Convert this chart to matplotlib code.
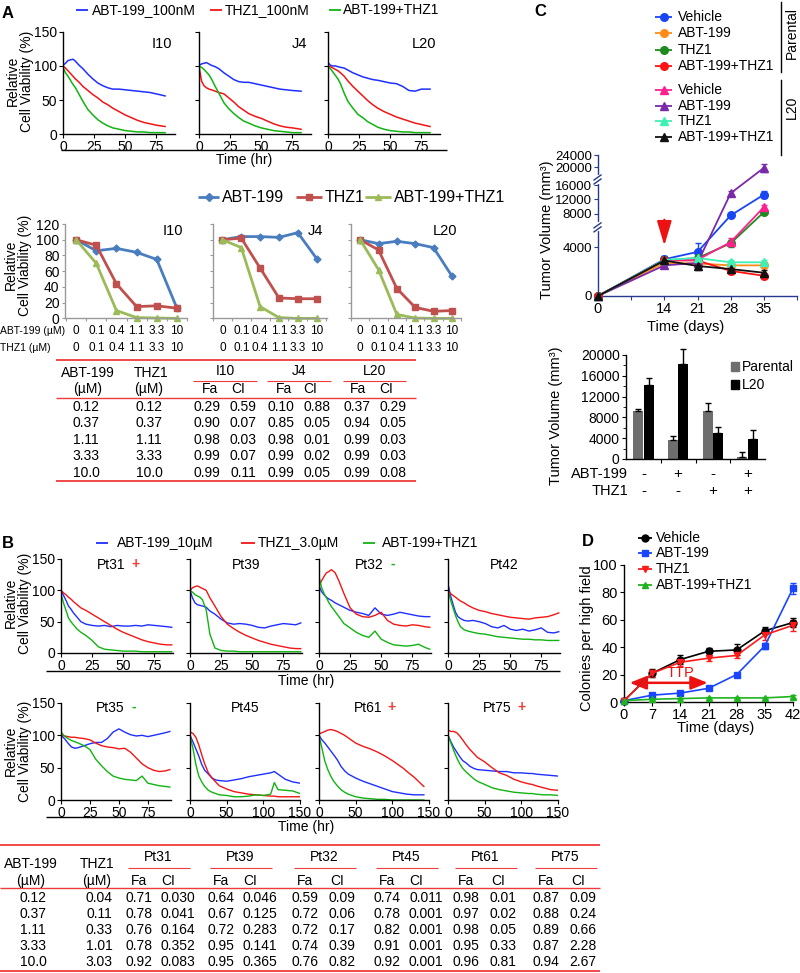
import matplotlib.pyplot as plt
import numpy as np

plt.rcParams['font.family'] = ['Liberation Sans', 'DejaVu Sans']
plt.rcParams['font.size'] = 10
plt.rcParams['axes.linewidth'] = 1.0
plt.rcParams['xtick.major.size'] = 3
plt.rcParams['ytick.major.size'] = 3
plt.rcParams['xtick.major.pad'] = 1.5
plt.rcParams['ytick.major.pad'] = 1.5

# ---------------- data ----------------
# A (top): live-cell viability, 100 nM
a_t = [0, 2, 4, 6, 8, 10, 13, 16, 20, 24, 28, 32, 36, 40, 45, 50, 55, 60, 65, 70, 75, 82]
a_i10_abt = [101, 104, 108, 109, 110, 107, 101, 96, 88, 81, 75, 71, 68, 66, 66, 65, 64, 63, 62, 61, 59, 56]
a_i10_thz = [100, 97, 93, 89, 85, 81, 76, 70, 64, 58, 53, 47, 43, 38, 33, 28, 24, 20, 17, 15, 13, 11]
a_i10_combo = [98, 90, 85, 79, 73, 68, 58, 48, 36, 28, 21, 16, 12, 9, 7, 5, 4, 3, 3, 2, 2, 2]
a_j4_abt = [101, 103, 104, 105, 103, 101, 99, 96, 90, 85, 80, 77, 76, 76, 74, 72, 70, 68, 66, 65, 64, 63]
a_j4_thz = [100, 78, 71, 68, 66, 65, 63, 61, 59, 53, 47, 40, 35, 30, 26, 23, 19, 15, 12, 10, 9, 7]
a_j4_combo = [100, 98, 95, 91, 87, 81, 70, 60, 46, 37, 30, 24, 19, 16, 12, 9, 7, 5, 4, 3, 2, 2]
a_l20_abt = [105, 101, 100, 100, 99, 98, 97, 94, 90, 87, 84, 82, 80, 79, 77, 75, 74, 70, 64, 63, 66, 66]
a_l20_thz = [100, 99, 97, 95, 93, 90, 85, 78, 70, 63, 56, 49, 43, 38, 33, 29, 25, 22, 19, 16, 14, 11]
a_l20_combo = [100, 96, 91, 86, 81, 74, 60, 48, 38, 29, 24, 18, 14, 10, 7, 5, 4, 3, 3, 2, 2, 2]
a_lines = ['I10', 'J4', 'L20']

# A (middle): dose response
a_dose_abt = ['0', '0.1', '0.4', '1.1', '3.3', '10']
a_dose_thz = ['0', '0.1', '0.4', '1.1', '3.3', '10']
d_i10_abt = [100, 86, 89, 84, 75, 13]
d_i10_thz = [100, 93, 44, 15, 16, 13]
d_i10_combo = [100, 70, 10, 1, 0.5, 0]
d_j4_abt = [100, 104, 104, 103, 109, 76]
d_j4_thz = [100, 102, 64, 26, 25, 25]
d_j4_combo = [100, 90, 15, 1, 0, 0]
d_l20_abt = [100, 95, 98, 95, 90, 54]
d_l20_thz = [100, 87, 38, 14, 9, 10]
d_l20_combo = [100, 62, 5, 0.5, 0, 0]

# A table
ta_abt = ['0.12', '0.37', '1.11', '3.33', '10.0']
ta_thz = ['0.12', '0.37', '1.11', '3.33', '10.0']
ta_i10_fa = ['0.29', '0.90', '0.98', '0.99', '0.99']
ta_i10_ci = ['0.59', '0.07', '0.03', '0.07', '0.11']
ta_j4_fa = ['0.10', '0.85', '0.98', '0.99', '0.99']
ta_j4_ci = ['0.88', '0.05', '0.01', '0.02', '0.05']
ta_l20_fa = ['0.37', '0.94', '0.99', '0.99', '0.99']
ta_l20_ci = ['0.29', '0.05', '0.03', '0.03', '0.08']

# B: patient samples
b1_t = [0, 2, 4, 6, 8, 10, 13, 16, 20, 25, 30, 35, 40, 45, 50, 55, 60, 65, 70, 75, 80, 85, 89]
pt31_abt = [100, 92, 84, 75, 70, 64, 57, 50, 46, 44, 43, 44, 42, 44, 43, 43, 44, 43, 45, 44, 43, 42, 41]
pt31_thz = [100, 96, 93, 89, 86, 82, 77, 72, 68, 62, 56, 50, 44, 38, 33, 29, 25, 21, 18, 16, 14, 13, 13]
pt31_combo = [95, 80, 68, 56, 50, 45, 38, 33, 28, 20, 10, 6, 5, 4, 3, 3, 3, 2, 2, 2, 2, 2, 2]
pt39_abt = [100, 88, 80, 77, 76, 75, 73, 67, 62, 54, 48, 46, 47, 46, 44, 41, 40, 43, 45, 47, 46, 45, 48]
pt39_thz = [100, 104, 106, 107, 105, 103, 100, 88, 75, 58, 46, 39, 33, 28, 24, 20, 17, 14, 12, 10, 8, 7, 7]
pt39_combo = [100, 97, 93, 91, 89, 85, 69, 30, 8, 4, 3, 3, 2, 2, 2, 2, 2, 2, 2, 2, 2, 2, 2]
pt32_abt = [107, 98, 93, 89, 86, 84, 80, 77, 73, 68, 65, 63, 60, 72, 62, 60, 62, 65, 63, 61, 59, 58, 58]
pt32_thz = [107, 115, 122, 128, 130, 133, 128, 115, 95, 72, 62, 58, 57, 60, 65, 52, 46, 44, 43, 45, 44, 42, 41]
pt32_combo = [122, 105, 95, 88, 80, 74, 66, 58, 47, 40, 33, 28, 25, 35, 22, 17, 13, 12, 11, 12, 14, 9, 6]
pt42_abt = [110, 92, 78, 65, 58, 55, 52, 51, 52, 50, 47, 42, 40, 44, 38, 36, 38, 35, 37, 40, 33, 32, 34]
pt42_thz = [100, 95, 92, 89, 86, 83, 80, 76, 72, 68, 66, 63, 61, 59, 57, 56, 55, 54, 56, 57, 58, 61, 64]
pt42_combo = [100, 85, 72, 60, 50, 42, 37, 35, 33, 31, 30, 28, 26, 25, 24, 23, 22, 22, 21, 21, 20, 20, 20]

b2_t35 = [0, 3, 6, 9, 12, 15, 20, 25, 30, 35, 40, 45, 50, 55, 60, 65, 70, 75, 80, 85, 90, 94]
pt35_abt = [100, 95, 88, 82, 80, 81, 84, 87, 89, 89, 95, 105, 110, 105, 101, 99, 100, 98, 100, 102, 104, 106]
pt35_thz = [100, 99, 98, 97, 97, 96, 95, 93, 88, 84, 82, 81, 79, 80, 74, 65, 56, 50, 46, 44, 45, 47]
pt35_combo = [105, 99, 95, 92, 90, 88, 84, 78, 63, 53, 44, 37, 34, 32, 31, 30, 37, 26, 24, 22, 21, 20]
b2_t = [0, 4, 8, 12, 16, 20, 25, 30, 35, 40, 50, 60, 70, 80, 90, 100, 110, 115, 120, 130, 140, 150]
pt45_abt = [100, 90, 79, 68, 55, 46, 40, 34, 31, 30, 29, 31, 33, 36, 38, 40, 42, 44, 40, 32, 28, 26]
pt45_thz = [105, 103, 97, 85, 70, 56, 42, 34, 28, 22, 17, 13, 11, 9, 8, 7, 6, 6, 5, 5, 5, 5]
pt45_combo = [100, 80, 55, 37, 28, 21, 15, 12, 10, 8, 7, 5, 5, 6, 8, 7, 9, 27, 16, 15, 14, 10]
b2_t61 = [0, 4, 8, 12, 16, 20, 25, 30, 35, 40, 50, 60, 70, 80, 90, 100, 110, 115, 120, 130, 140, 143]
pt61_abt = [100, 93, 88, 82, 76, 70, 62, 52, 45, 40, 34, 29, 25, 21, 17, 13, 11, 10, 9, 8, 8, 8]
pt61_thz = [102, 104, 106, 108, 109, 108, 106, 103, 100, 96, 88, 83, 79, 74, 68, 61, 53, 49, 44, 35, 24, 21]
pt61_combo = [100, 80, 60, 47, 37, 29, 22, 16, 12, 9, 5, 3, 2, 1, 1, 0, 0, 0, 0, 0, 0, 0]
pt75_abt = [100, 90, 81, 74, 67, 61, 57, 52, 49, 47, 46, 45, 44, 44, 42, 42, 41, 41, 40, 39, 38, 37]
pt75_thz = [108, 106, 106, 104, 99, 93, 85, 78, 72, 66, 59, 50, 42, 38, 32, 28, 25, 24, 22, 19, 16, 15]
pt75_combo = [100, 88, 76, 65, 56, 49, 43, 38, 33, 29, 24, 19, 16, 14, 12, 11, 10, 10, 9, 8, 8, 7]

# B table
tb_abt = ['0.12', '0.37', '1.11', '3.33', '10.0']
tb_thz = ['0.04', '0.11', '0.33', '1.01', '3.03']
tb_names = ['Pt31', 'Pt39', 'Pt32', 'Pt45', 'Pt61', 'Pt75']
tb_fa = [['0.71', '0.78', '0.76', '0.78', '0.92'],
         ['0.64', '0.67', '0.72', '0.95', '0.95'],
         ['0.59', '0.72', '0.72', '0.74', '0.76'],
         ['0.74', '0.78', '0.82', '0.91', '0.92'],
         ['0.98', '0.97', '0.98', '0.95', '0.96'],
         ['0.87', '0.88', '0.89', '0.87', '0.94']]
tb_ci = [['0.030', '0.041', '0.164', '0.352', '0.083'],
         ['0.046', '0.125', '0.283', '0.141', '0.365'],
         ['0.09', '0.06', '0.17', '0.39', '0.82'],
         ['0.011', '0.001', '0.001', '0.001', '0.001'],
         ['0.01', '0.02', '0.05', '0.33', '0.81'],
         ['0.09', '0.24', '0.66', '2.28', '2.67']]

# C: xenograft tumour volume
c_days = [0, 14, 21, 28, 35]
c_par_veh = [0, 3000, 3600, 7500, 13300]
c_par_veh_err = [0, 300, 700, 500, 900]
c_par_abt = [0, 2700, 2650, 2500, 2500]
c_par_abt_err = [0, 250, 300, 250, 250]
c_par_thz = [0, 2900, 3100, 4300, 8400]
c_par_thz_err = [0, 200, 200, 300, 500]
c_par_combo = [0, 2900, 2900, 2050, 1650]
c_par_combo_err = [0, 200, 250, 250, 200]
c_l20_veh = [0, 2950, 2950, 4400, 9800]
c_l20_veh_err = [0, 200, 250, 300, 600]
c_l20_abt = [0, 2500, 2700, 13700, 19700]
c_l20_abt_err = [0, 250, 300, 700, 1200]
c_l20_thz = [0, 2950, 3100, 2750, 2750]
c_l20_thz_err = [0, 200, 200, 200, 200]
c_l20_combo = [0, 2900, 2450, 2200, 1900]
c_l20_combo_err = [0, 200, 350, 200, 200]

cb_par = [9300, 3600, 9200, 400]
cb_par_err = [400, 900, 1600, 1000]
cb_l20 = [14200, 18300, 5000, 3800]
cb_l20_err = [1300, 2900, 1200, 1700]
cb_abt_sign = ['-', '+', '-', '+']
cb_thz_sign = ['-', '-', '+', '+']

# D: colonies
d_days = [0, 7, 14, 21, 28, 35, 42]
d_veh = [1, 21, 31, 37, 38, 52, 58]
d_veh_err = [0.5, 3, 3.5, 2.5, 4, 2.5, 3]
d_abt = [1, 5, 6.5, 10, 20, 41, 83]
d_abt_err = [0.5, 1, 1, 1.2, 1.2, 2, 4]
d_thz = [1, 21, 29, 32, 34, 49, 56]
d_thz_err = [0.5, 2.5, 2.5, 2, 2, 4, 4]
d_combo = [1, 2, 2.5, 3, 3, 3, 4]
d_combo_err = [0.3, 0.5, 0.5, 0.5, 0.5, 0.5, 0.8]

# colours
LB, LR, LG = '#1f2fff', '#f21515', '#12b312'
DB, DR, DG = '#4a7dc0', '#c0504d', '#9bbb59'
RED = '#ef3b3b'
NAVY = '#283a8c'

W, H = 800, 973
fig = plt.figure(figsize=(W / 100, H / 100), dpi=100)


def box(x0, y0, x1, y1):
    return fig.add_axes([x0 / W, 1 - y1 / H, (x1 - x0) / W, (y1 - y0) / H])


ov = box(0, 0, W, H)
ov.set_xlim(0, W)
ov.set_ylim(H, 0)
ov.axis('off')
ov.patch.set_visible(False)
ov.set_zorder(5)


def txt(x, y, s, **kw):
    kw.setdefault('ha', 'center')
    kw.setdefault('va', 'center')
    ov.text(x, y, s, **kw)


def hline(x0, x1, y, color='black', lw=1.0):
    ov.plot([x0, x1], [y, y], color=color, lw=lw, solid_capstyle='butt')


def xpx(ax, x):
    return ax.transData.transform((x, ax.get_ylim()[0]))[0]


def clean(ax):
    ax.spines['top'].set_visible(False)
    ax.spines['right'].set_visible(False)
    ax.tick_params(direction='out')


# ---------------- panel A top ----------------
txt(8, 13, 'A', fontsize=12, fontweight='bold')
hline(76, 88, 10, LB, 1.3)
txt(92, 10, 'ABT-199_100nM', ha='left')
hline(210, 222, 10, LR, 1.3)
txt(225, 10, 'THZ1_100nM', ha='left')
hline(329, 341, 10, LG, 1.3)
txt(343, 10, 'ABT-199+THZ1', ha='left')

a_sets = [(a_i10_abt, a_i10_thz, a_i10_combo), (a_j4_abt, a_j4_thz, a_j4_combo),
          (a_l20_abt, a_l20_thz, a_l20_combo)]
for k, (left, name, ys) in enumerate(zip([63, 199, 328], a_lines, a_sets)):
    ax = box(left, 32, left + 112, 134)
    for y, c in zip(ys, [LB, LR, LG]):
        ax.plot(a_t, y, color=c, lw=1.1)
    ax.set_xlim(0, 90)
    ax.set_ylim(0, 150)
    ax.set_xticks([0, 25, 50, 75])
    ax.set_yticks([0, 50, 100, 150])
    clean(ax)
    if k:
        ax.set_yticklabels([])
    ax.text(0.97, 0.88, name, transform=ax.transAxes, ha='right', va='center', fontsize=10.5)
hline(61, 447, 150)
txt(244, 160, 'Time (hr)')
txt(20, 81, 'Relative\nCell Viability (%)', rotation=90, linespacing=0.95)

# ---------------- panel A middle ----------------
hline(198, 219, 197, DB, 2)
ov.plot([208.5], [197], 'D', color=DB, ms=4)
txt(222, 197, 'ABT-199', ha='left', fontsize=11.5)
hline(296, 322, 197, DR, 2)
ov.plot([309], [197], 's', color=DR, ms=4.5)
txt(325, 197, 'THZ1', ha='left', fontsize=11.5)
hline(365, 391, 197, DG, 2)
ov.plot([378], [197], '^', color=DG, ms=5)
txt(394, 197, 'ABT-199+THZ1', ha='left', fontsize=11.5)

d_sets = [(d_i10_abt, d_i10_thz, d_i10_combo), (d_j4_abt, d_j4_thz, d_j4_combo),
          (d_l20_abt, d_l20_thz, d_l20_combo)]
d_boxes = [(65, 187, -0.55, 5.5), (213, 327, -0.15, 5.55), (351, 461, -0.2, 5.3)]
cats = np.arange(len(a_dose_abt))
for k, ((x0, x1, lo, hi), name, ys) in enumerate(zip(d_boxes, a_lines, d_sets)):
    ax = box(x0, 224, x1, 318.4)
    for y, c, m, ms in zip(ys, [DB, DR, DG], ['D', 's', '^'], [3.5, 4.5, 4.5]):
        ax.plot(cats, y, color=c, lw=2, marker=m, ms=ms, clip_on=False)
    ax.set_xlim(lo, hi)
    ax.set_ylim(0, 120)
    ax.set_yticks(range(0, 121, 20))
    ax.set_xticks(np.arange(-0.5, 6, 1))
    ax.set_xticklabels([])
    clean(ax)
    ax.spines['left'].set_color('#999999')
    ax.spines['bottom'].set_color('#999999')
    ax.tick_params(colors='#999999', labelcolor='black', length=2.5)
    if k:
        ax.set_yticklabels([])
    ax.text(0.97, 0.93, name, transform=ax.transAxes, ha='right', va='center', fontsize=10.5)
    for i in cats:
        px = xpx(ax, i)
        txt(px, 331, a_dose_abt[i], fontsize=8.5)
        txt(px, 348, a_dose_thz[i], fontsize=8.5)
txt(0, 331, 'ABT-199 (µM)', ha='left', fontsize=7.5)
txt(0, 348, 'THZ1 (µM)', ha='left', fontsize=7.5)
txt(18, 265, 'Relative\nCell Viability (%)', rotation=90, linespacing=0.95)

# ---------------- table A ----------------
hline(56, 416, 360, RED, 1.3)
txt(88, 373, 'ABT-199')
txt(151, 373, 'THZ1')
for nm, (lx0, lx1) in zip(a_lines, [(193, 257), (267, 331), (343, 406)]):
    txt((lx0 + lx1) / 2, 371, nm)
    hline(lx0, lx1, 381, RED, 0.8)
txt(88, 389, '(µM)')
txt(149, 389, '(µM)')
for fx, cx in [(210, 238), (284, 310), (358, 386)]:
    txt(fx, 389, 'Fa')
    txt(cx, 389, 'CI')
hline(56, 416, 398, RED, 1.0)
ta_cols = [ta_abt, ta_thz, ta_i10_fa, ta_i10_ci, ta_j4_fa, ta_j4_ci, ta_l20_fa, ta_l20_ci]
ta_x = [86, 149, 207, 243, 281, 317, 357, 393]
for col, x in zip(ta_cols, ta_x):
    for r, s in enumerate(col):
        txt(x, 407 + r * 16.4, s)
hline(56, 416, 481, RED, 1.3)

# ---------------- panel B ----------------
txt(8, 544, 'B', fontsize=12, fontweight='bold')
hline(96, 108, 543, LB, 1.3)
txt(117, 543, 'ABT-199_10µM', ha='left')
hline(241, 255, 543, LR, 1.3)
txt(258, 543, 'THZ1_3.0µM', ha='left')
hline(363, 375, 543, LG, 1.3)
txt(382, 543, 'ABT-199+THZ1', ha='left')

b_row1 = [('Pt31', '+', RED, pt31_abt, pt31_thz, pt31_combo),
          ('Pt39', '', None, pt39_abt, pt39_thz, pt39_combo),
          ('Pt32', '-', LG, pt32_abt, pt32_thz, pt32_combo),
          ('Pt42', '', None, pt42_abt, pt42_thz, pt42_combo)]
b_row2 = [('Pt35', '-', LG, b2_t35, pt35_abt, pt35_thz, pt35_combo),
          ('Pt45', '', None, b2_t, pt45_abt, pt45_thz, pt45_combo),
          ('Pt61', '+', RED, b2_t61, pt61_abt, pt61_thz, pt61_combo),
          ('Pt75', '+', RED, b2_t, pt75_abt, pt75_thz, pt75_combo)]
b_lefts = [61, 190, 319, 448]

for k, (left, (name, sign, sc, yb, yr, yg)) in enumerate(zip(b_lefts, b_row1)):
    ax = box(left, 559, left + 112, 653)
    for y, c in zip([yb, yr, yg], [LB, LR, LG]):
        ax.plot(b1_t, y, color=c, lw=1.0)
    ax.set_xlim(0, 90)
    ax.set_ylim(0, 150)
    ax.set_xticks([0, 25, 50, 75])
    ax.set_yticks([0, 50, 100, 150])
    clean(ax)
    if k:
        ax.set_yticklabels([])
    cx = left + 56
    txt(cx - (6 if sign else 0), 565, name)
    if sign:
        txt(cx + 18, 564, sign, color=sc, fontweight='bold')
hline(46, 560, 671)
txt(306, 681, 'Time (hr)')
txt(18, 603, 'Relative\nCell Viability (%)', rotation=90, linespacing=0.95)

for k, (left, (name, sign, sc, tt, yb, yr, yg)) in enumerate(zip(b_lefts, b_row2)):
    ax = box(left, 703, left + 110, 800)
    for y, c in zip([yb, yr, yg], [LB, LR, LG]):
        ax.plot(tt, y, color=c, lw=1.0)
    if k == 0:
        ax.set_xlim(0, 95)
        ax.set_xticks([0, 25, 50, 75])
    else:
        ax.set_xlim(0, 150)
        ax.set_xticks([0, 50, 100, 150])
    ax.set_ylim(0, 150)
    ax.set_yticks([0, 50, 100, 150])
    clean(ax)
    if k:
        ax.set_yticklabels([])
    cx = left + 55
    txt(cx - (6 if sign else 0), 708, name)
    if sign:
        txt(cx + 18, 707, sign, color=sc, fontweight='bold')
hline(46, 560, 817)
txt(306, 827, 'Time (hr)')
txt(18, 751, 'Relative\nCell Viability (%)', rotation=90, linespacing=0.95)

# ---------------- table B ----------------
hline(0, 600, 845, RED, 1.3)
txt(31, 864, 'ABT-199')
txt(97, 864, 'THZ1')
txt(31, 881, '(µM)')
txt(97, 881, '(µM)')
tb_hdr = [158, 240, 324, 406, 485, 565]
for nm, hx, fa, ci in zip(tb_names, tb_hdr, tb_fa, tb_ci):
    wide = len(ci[0]) > 4
    fx, cx = hx - 19, hx + (20 if wide else 18)
    txt(hx, 857, nm)
    hline(hx - 30, hx + 32, 868, RED, 0.8)
    txt(fx, 881, 'Fa')
    txt(cx - (10 if wide else 5), 881, 'CI')
    for r in range(5):
        txt(fx, 898 + r * 16, fa[r])
        txt(cx, 898 + r * 16, ci[r])
for r in range(5):
    txt(33, 898 + r * 16, tb_abt[r])
    txt(99, 898 + r * 16, tb_thz[r])
hline(0, 600, 888, RED, 1.0)
hline(0, 600, 971, RED, 1.3)

# ---------------- panel C (growth curves) ----------------
txt(540, 12, 'C', fontsize=12, fontweight='bold')
knot_v = [0, 5000, 6500, 16000, 18000, 24000]
knot_p = [0, 61.25, 77, 111, 123, 141]


def c_fwd(v):
    return np.interp(v, knot_v, knot_p)


def c_inv(p):
    return np.interp(p, knot_p, knot_v)


axc = box(598, 155, 797, 296)
axc.set_yscale('function', functions=(c_fwd, c_inv))
c_series = [
    (c_par_veh, c_par_veh_err, '#1846f5', 'o'),
    (c_par_abt, c_par_abt_err, '#ff8c1a', 'o'),
    (c_par_thz, c_par_thz_err, '#1f8a1f', 'o'),
    (c_par_combo, c_par_combo_err, '#ff1414', 'o'),
    (c_l20_veh, c_l20_veh_err, '#ff2090', '^'),
    (c_l20_abt, c_l20_abt_err, '#7a2aa8', '^'),
    (c_l20_thz, c_l20_thz_err, '#3ff0b5', '^'),
    (c_l20_combo, c_l20_combo_err, '#111111', '^'),
]
for vals, err, col, m in c_series:
    axc.errorbar(c_days, vals, yerr=err, color=col, marker=m, ms=5.5, lw=1.3,
                 capsize=2, elinewidth=1, clip_on=False, zorder=3)
axc.set_xlim(0, 42)
axc.set_ylim(0, 24000)
axc.set_xticks(range(0, 43, 7))
axc.set_xticklabels(['0', '', '14', '21', '28', '35', ''], fontsize=10.5)
axc.set_yticks([0, 4000, 8000, 12000, 16000, 20000, 24000])
axc.set_yticklabels(['0', '4000', '8000', '12000', '16000', '20000', '24000'], fontsize=9.5)
clean(axc)
for sp in ['left', 'bottom']:
    axc.spines[sp].set_color(NAVY)
axc.tick_params(colors=NAVY, labelcolor='black')
axc.annotate('', xy=(14, 3900), xytext=(14, 7100),
             arrowprops=dict(arrowstyle='-|>,head_width=0.45,head_length=1.5',
                             color='#ee1111', lw=1.5, mutation_scale=10))
# axis breaks
for val in [5750, 17000]:
    yb = 296 - c_fwd(val)
    ov.plot([598, 598], [yb - 2.5, yb + 2.5], color='white', lw=3)
    ov.plot([594, 601], [yb + 1, yb - 4], color=NAVY, lw=1)
    ov.plot([594, 601], [yb + 5, yb], color=NAVY, lw=1)
txt(686, 327, 'Time (days)', fontsize=10.5)
txt(547, 230, 'Tumor Volume (mm³)', rotation=90, fontsize=10.5)

c_leg = ['Vehicle', 'ABT-199', 'THZ1', 'ABT-199+THZ1'] * 2
c_leg_y = [17, 33, 50, 66, 90, 106, 121, 137]
for (vals, err, col, m), lab, y in zip(c_series, c_leg, c_leg_y):
    hline(655, 672, y, col, 1.3)
    ov.plot([663.5], [y], m, color=col, ms=5.5)
    txt(678, y, lab, ha='left')
ov.plot([781, 781], [2, 72], color='black', lw=1)
txt(792, 33, 'Parental', rotation=90)
ov.plot([781, 781], [80, 155], color='black', lw=1)
txt(792, 107, 'L20', rotation=90)

# ---------------- panel C (bars) ----------------
axb = box(626, 355, 765, 459)
gx = np.arange(len(cb_par))
axb.bar(gx - 0.15, cb_par, width=0.29, color='#6e6e6e',
        yerr=[np.zeros(4), cb_par_err], capsize=2, error_kw=dict(lw=1))
axb.bar(gx + 0.15, cb_l20, width=0.29, color='black',
        yerr=[np.zeros(4), cb_l20_err], capsize=2, error_kw=dict(lw=1, clip_on=False))
axb.set_xlim(-0.5, 3.5)
axb.set_ylim(0, 20000)
axb.set_xticks([0.5, 1.5, 2.5])
axb.set_xticklabels([])
axb.set_yticks(range(0, 20001, 4000))
axb.set_yticks(range(0, 20001, 2000), minor=True)
axb.tick_params(axis='y', which='minor', length=2)
axb.tick_params(axis='both', labelsize=10)
clean(axb)
for i in gx:
    px = xpx(axb, i)
    txt(px, 474, cb_abt_sign[i], fontsize=11)
    txt(px, 491, cb_thz_sign[i], fontsize=11)
txt(628, 474, 'ABT-199', ha='right', fontsize=10.5)
txt(628, 491, 'THZ1', ha='right', fontsize=10.5)
ov.add_patch(plt.Rectangle((731, 362), 8, 9, color='#6e6e6e'))
txt(742, 367, 'Parental', ha='left')
ov.add_patch(plt.Rectangle((731, 380), 8, 9, color='black'))
txt(742, 385, 'L20', ha='left')
txt(556, 416, 'Tumor Volume (mm³)', rotation=90, fontsize=10.5)

# ---------------- panel D ----------------
txt(588, 542, 'D', fontsize=12, fontweight='bold')
axd = box(624, 565, 793, 702)
d_series = [(d_veh, d_veh_err, 'black', 'o', 'Vehicle'),
            (d_abt, d_abt_err, '#1a45ff', 's', 'ABT-199'),
            (d_thz, d_thz_err, '#ff1a1a', 'v', 'THZ1'),
            (d_combo, d_combo_err, '#1fb31f', '^', 'ABT-199+THZ1')]
for vals, err, col, m, lab in d_series:
    axd.errorbar(d_days, vals, yerr=err, color=col, marker=m, ms=5, lw=1.2,
                 capsize=2, elinewidth=1, clip_on=False, zorder=3)
axd.set_xlim(0, 42)
axd.set_ylim(0, 100)
axd.set_xticks(d_days)
axd.set_yticks(range(0, 101, 20))
axd.tick_params(labelsize=10.5)
clean(axd)
axd.annotate('', xy=(0.7, 14), xytext=(21.5, 14),
             arrowprops=dict(arrowstyle='<|-|>,head_width=0.4,head_length=1.0',
                             color='#ee1111', lw=1.8, mutation_scale=10))
axd.text(14, 21, 'TTP', color='#ee1111', ha='center', va='center', fontsize=10.5)
for (vals, err, col, m, lab), y in zip(d_series, [538, 553, 569, 585]):
    hline(638, 652, y, col, 1.3)
    ov.plot([645], [y], m, color=col, ms=5)
    txt(656, y, lab, ha='left')
txt(716, 728, 'Time (days)', fontsize=10.5)
txt(587, 638, 'Colonies per high field', rotation=90, fontsize=10.5)

fig.savefig('out.png', dpi=100)
